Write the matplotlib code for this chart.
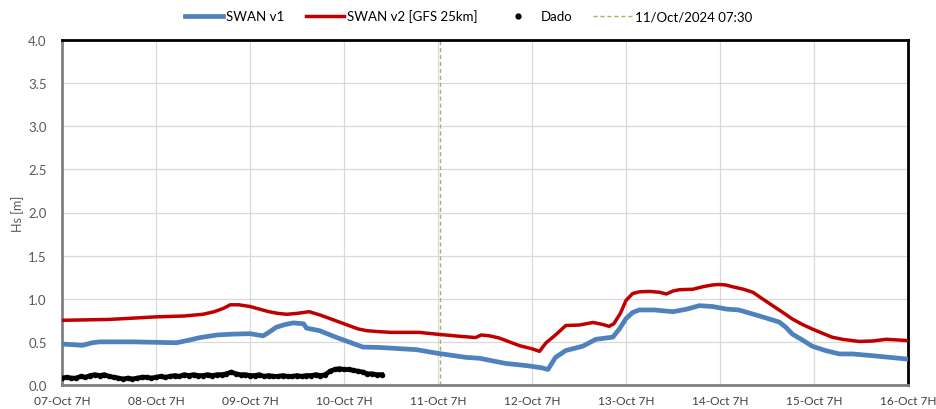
import matplotlib
matplotlib.use("Agg")
import matplotlib.pyplot as plt
import numpy as np
from matplotlib.lines import Line2D

plt.rcParams['font.family'] = ['Lato', 'DejaVu Sans']

# x in days since 07-Oct 07:00
tick_labels = ["07-Oct 7H", "08-Oct 7H", "09-Oct 7H", "10-Oct 7H", "11-Oct 7H",
               "12-Oct 7H", "13-Oct 7H", "14-Oct 7H", "15-Oct 7H", "16-Oct 7H"]

v2_days = [0.0, 0.5, 1.0, 1.3, 1.5, 1.62, 1.72, 1.79, 1.88, 2.0, 2.1, 2.2, 2.3, 2.39, 2.5,
           2.63, 2.75, 2.9, 3.05, 3.15, 3.24, 3.35, 3.5, 3.8, 3.98,
           4.23, 4.40, 4.46, 4.55, 4.65, 4.76, 4.87, 5.0, 5.08, 5.15, 5.25, 5.36, 5.5, 5.65,
           5.76, 5.82, 5.87, 5.94, 6.0, 6.07, 6.14, 6.25,
           6.36, 6.43, 6.50, 6.57, 6.71, 6.82, 6.92, 6.99, 7.06, 7.13, 7.25, 7.35, 7.45, 7.56,
           7.67, 7.77, 7.88, 7.98, 8.09, 8.19, 8.3, 8.48, 8.62, 8.77, 9.0]
v2_hs = [0.75, 0.76, 0.79, 0.80, 0.82, 0.85, 0.89, 0.93, 0.93, 0.91, 0.88, 0.85, 0.83, 0.82, 0.83,
         0.85, 0.81, 0.75, 0.69, 0.65, 0.63, 0.62, 0.61, 0.61, 0.59,
         0.565, 0.55, 0.58, 0.57, 0.545, 0.50, 0.455, 0.42, 0.39, 0.49, 0.58, 0.69, 0.695, 0.725,
         0.70, 0.68, 0.71, 0.83, 0.98, 1.06, 1.08, 1.085,
         1.075, 1.055, 1.09, 1.105, 1.11, 1.14, 1.16, 1.165, 1.16, 1.14, 1.11, 1.075, 1.0, 0.92,
         0.84, 0.765, 0.70, 0.65, 0.60, 0.555, 0.53, 0.505, 0.51, 0.53, 0.515]

v1_days = [0.0, 0.22, 0.32, 0.4, 0.76, 1.22, 1.35, 1.47, 1.65, 1.82, 2.0, 2.14, 2.2, 2.28, 2.37,
           2.46, 2.57, 2.6, 2.74, 2.9, 3.05, 3.2,
           3.38, 3.77, 3.98, 4.3, 4.44, 4.72, 4.94, 5.1, 5.17, 5.25, 5.36, 5.54, 5.68, 5.86,
           5.93, 6.0, 6.07, 6.14, 6.3,
           6.5, 6.65, 6.78, 6.92, 7.07, 7.2, 7.42, 7.63, 7.7, 7.77, 7.88, 7.98, 8.12, 8.27, 8.41,
           8.62, 9.0]
v1_hs = [0.475, 0.46, 0.49, 0.50, 0.50, 0.49, 0.52, 0.55, 0.58, 0.59, 0.595, 0.57, 0.61, 0.67,
         0.70, 0.72, 0.71, 0.66, 0.63, 0.56, 0.50, 0.44,
         0.435, 0.41, 0.37, 0.32, 0.31, 0.25, 0.225, 0.20, 0.18, 0.32, 0.40, 0.45, 0.53, 0.555,
         0.65, 0.77, 0.84, 0.87, 0.87,
         0.85, 0.88, 0.92, 0.91, 0.88, 0.87, 0.80, 0.73, 0.67, 0.59, 0.52, 0.45, 0.40, 0.36, 0.36,
         0.34, 0.30]

dado_days = [0.00, 0.05, 0.10, 0.15, 0.20, 0.25, 0.30, 0.35, 0.40, 0.45, 0.50, 0.55, 0.60,
             0.65, 0.70, 0.75, 0.80, 0.85, 0.90, 0.95, 1.00, 1.05, 1.10, 1.15, 1.20, 1.25,
             1.30, 1.35, 1.40, 1.45, 1.50, 1.55, 1.60, 1.65, 1.70, 1.75, 1.80, 1.85, 1.90,
             1.95, 2.00, 2.05, 2.10, 2.15, 2.20, 2.25, 2.30, 2.35, 2.40, 2.45, 2.50, 2.55,
             2.60, 2.65, 2.70, 2.75, 2.80, 2.85, 2.90, 2.95, 3.00, 3.05, 3.10, 3.15, 3.20,
             3.25, 3.30, 3.35, 3.40]
dado_hs = [0.08, 0.09, 0.08, 0.08, 0.10, 0.09, 0.11, 0.12, 0.11, 0.12, 0.10, 0.09, 0.08,
           0.07, 0.08, 0.07, 0.08, 0.09, 0.09, 0.08, 0.09, 0.10, 0.09, 0.10, 0.11, 0.10,
           0.12, 0.11, 0.12, 0.11, 0.11, 0.12, 0.11, 0.12, 0.12, 0.13, 0.15, 0.13, 0.12,
           0.12, 0.11, 0.11, 0.12, 0.10, 0.11, 0.10, 0.10, 0.11, 0.10, 0.10, 0.11, 0.10,
           0.11, 0.11, 0.12, 0.11, 0.12, 0.16, 0.18, 0.19, 0.18, 0.18, 0.17, 0.16, 0.15,
           0.13, 0.13, 0.12, 0.12]

vline_day = 4.0 + 0.5 / 24  # 11/Oct/2024 07:30

blue = "#4f81bd"
red = "#c00000"
green = "#9bbb59"

fig = plt.figure(figsize=(9.37, 4.10), dpi=100)
ax = fig.add_axes([62 / 937, 24 / 410, 846 / 937, 345 / 410])

ax.plot(v1_days, v1_hs, color=blue, lw=3.4, solid_joinstyle='round', zorder=3)
ax.plot(v2_days, v2_hs, color=red, lw=2.5, solid_joinstyle='round', zorder=3)
ax.plot(dado_days, dado_hs, color='black', lw=3.4, marker='o', ms=3, zorder=4)
ax.axvline(vline_day, color=green, lw=1.0, ls=(0, (3, 2)), zorder=2)

ax.set_xlim(0, 9)
ax.set_ylim(0, 4)
ax.set_xticks(range(10))
ax.set_xticklabels(tick_labels)
ax.set_yticks(np.arange(0, 4.01, 0.5))
ax.set_yticklabels([f"{v:.1f}" for v in np.arange(0, 4.01, 0.5)])
ax.tick_params(axis='x', length=0, labelsize=8.6, colors="#404040", pad=7)
ax.tick_params(axis='y', length=0, labelsize=9.5, colors="#595959", pad=11)
ax.grid(True, color="#d9d9d9", lw=0.9)
ax.set_axisbelow(True)
ax.set_ylabel("Hs [m]", fontsize=9, color="#595959", labelpad=3)

for s in ['left', 'bottom']:
    ax.spines[s].set_color("#808080")
    ax.spines[s].set_linewidth(2)
for s in ['top', 'right']:
    ax.spines[s].set_color("black")
    ax.spines[s].set_linewidth(2)

handles = [
    Line2D([], [], color=blue, lw=3.4),
    Line2D([], [], color=red, lw=2.5),
    Line2D([], [], color='black', lw=0, marker='o', ms=3.5),
    Line2D([], [], color=green, lw=1.0, ls=(0, (3, 2))),
]
labels = ["SWAN v1", "SWAN v2 [GFS 25km]", "Dado", "11/Oct/2024 07:30"]
fig.legend(handles, labels, loc='center', bbox_to_anchor=(0.5, 1 - 17 / 410), ncol=4,
           frameon=False, fontsize=9.5, handlelength=2.9, handletextpad=0.25, columnspacing=1.6)

fig.savefig("out.png", dpi=100)
